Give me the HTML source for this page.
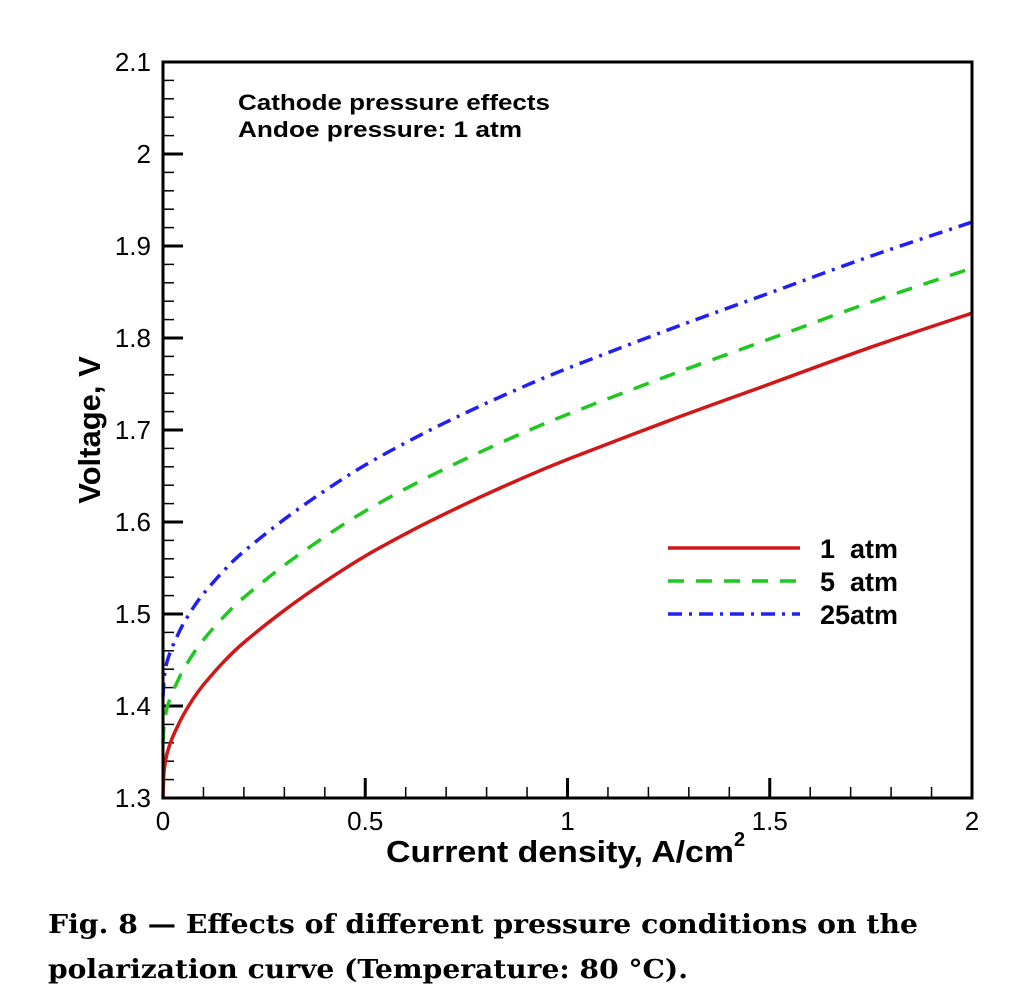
<!DOCTYPE html>
<html><head><meta charset="utf-8"><style>
html,body{margin:0;padding:0;background:#fff;}
svg{display:block;font-family:"Liberation Sans",sans-serif;}
</style></head><body>
<svg id="chart" width="1029" height="1002" viewBox="0 0 1029 1002" xmlns="http://www.w3.org/2000/svg">
<g id="ticks"></g>
<g id="curves"></g>
<rect x="163" y="62" width="809" height="736" fill="none" stroke="#000" stroke-width="3"/>
<text x="238" y="110" font-size="22" font-weight="bold" textLength="312" lengthAdjust="spacingAndGlyphs">Cathode pressure effects</text>
<text x="238" y="137" font-size="22" font-weight="bold" textLength="284" lengthAdjust="spacingAndGlyphs">Andoe pressure: 1 atm</text>
<text transform="translate(100,430) rotate(-90)" text-anchor="middle" font-size="31" font-weight="bold">Voltage, V</text>
<text x="386" y="862" font-size="31" font-weight="bold" textLength="348" lengthAdjust="spacingAndGlyphs">Current density, A/cm</text>
<text x="734" y="846" font-size="20" font-weight="bold">2</text>
<g id="legend"></g>
<text x="48" y="933" font-family="'DejaVu Serif','Liberation Serif',serif" font-size="26" font-weight="bold" textLength="870" lengthAdjust="spacingAndGlyphs">Fig. 8 — Effects of different pressure conditions on the</text>
<text x="48" y="978" font-family="'DejaVu Serif','Liberation Serif',serif" font-size="26" font-weight="bold" textLength="640" lengthAdjust="spacingAndGlyphs">polarization curve (Temperature: 80 °C).</text>
</svg>
<script>
const xData = [0, 0.002, 0.005, 0.01, 0.02, 0.035, 0.05, 0.075, 0.1, 0.15, 0.2, 0.3, 0.4, 0.5, 0.625, 0.75, 0.875, 1, 1.25, 1.5, 1.75, 2];
const v1atm = [1.30, 1.325, 1.337, 1.348, 1.362, 1.377, 1.39, 1.408, 1.423, 1.448, 1.469, 1.504, 1.535, 1.563, 1.593, 1.62, 1.645, 1.668, 1.71, 1.75, 1.79, 1.827];
const v5atm = [1.36, 1.375, 1.387, 1.398, 1.411, 1.426, 1.439, 1.457, 1.472, 1.497, 1.518, 1.553, 1.584, 1.612, 1.642, 1.669, 1.694, 1.717, 1.759, 1.799, 1.839, 1.876];
const v25atm = [1.41, 1.425, 1.437, 1.448, 1.461, 1.476, 1.489, 1.507, 1.522, 1.547, 1.568, 1.603, 1.634, 1.662, 1.692, 1.719, 1.744, 1.767, 1.809, 1.849, 1.889, 1.926];
const xTicks = [0, 0.5, 1, 1.5, 2];
const xTickLabels = ["0", "0.5", "1", "1.5", "2"];
const yTicks = [1.3, 1.4, 1.5, 1.6, 1.7, 1.8, 1.9, 2, 2.1];
const yTickLabels = ["1.3", "1.4", "1.5", "1.6", "1.7", "1.8", "1.9", "2", "2.1"];
const seriesNames = ["1  atm", "5  atm", "25atm"];

const NS = "http://www.w3.org/2000/svg";
const X0 = 163, X1 = 972, Y0 = 798, Y1 = 62;
function sx(v){ return X0 + (v - 0) / 2 * (X1 - X0); }
function sy(v){ return Y0 - (v - 1.3) / 0.8 * (Y0 - Y1); }
function mk(tag, attrs, parent){ const e = document.createElementNS(NS, tag); for (const k in attrs) e.setAttribute(k, attrs[k]); parent.appendChild(e); return e; }

const tg = document.getElementById("ticks");
for (let i = 0; i <= 20; i++) {
  const v = i * 0.1, major = i % 5 === 0;
  const t = mk("line", {x1: sx(v), x2: sx(v), y1: Y0, y2: Y0 - (major ? 20 : 11), stroke: "#000", "stroke-width": major ? 3 : 1.5}, tg);
  
  
}
for (let i = 0; i <= 40; i++) {
  const v = 1.3 + i * 0.02, major = i % 5 === 0;
  const t = mk("line", {x1: X0, x2: X0 + (major ? 20 : 11), y1: sy(v), y2: sy(v), stroke: "#000", "stroke-width": major ? 3 : 1.5}, tg);
  
  
}
xTicks.forEach((v, i) => {
  const t = mk("text", {x: sx(v), y: Y0 + 32, "text-anchor": "middle", "font-size": 26}, tg);
  t.textContent = xTickLabels[i];
  
  
});
yTicks.forEach((v, i) => {
  const t = mk("text", {x: 151, y: sy(v) + 9, "text-anchor": "end", "font-size": 26}, tg);
  t.textContent = yTickLabels[i];
  
  
});

const styles = [
  {color: "#d01818", dash: ""},
  {color: "#1ec81e", dash: "16,12"},
  {color: "#2020f0", dash: "14,7,3,7"}
];
const series = [v1atm, v5atm, v25atm];
const cg = document.getElementById("curves");
const lg = document.getElementById("legend");
function smoothPath(vals){
  const pts = vals.map((v, i) => [sx(xData[i]), sy(v)]);
  let d = "M" + pts[0][0].toFixed(1) + "," + pts[0][1].toFixed(1);
  for (let i = 0; i < pts.length - 1; i++) {
    const p0 = pts[Math.max(0, i - 1)], p1 = pts[i], p2 = pts[i + 1], p3 = pts[Math.min(pts.length - 1, i + 2)];
    const c1 = [p1[0] + (p2[0] - p0[0]) / 6, p1[1] + (p2[1] - p0[1]) / 6];
    const c2 = [p2[0] - (p3[0] - p1[0]) / 6, p2[1] - (p3[1] - p1[1]) / 6];
    d += " C" + c1[0].toFixed(1) + "," + c1[1].toFixed(1) + " " + c2[0].toFixed(1) + "," + c2[1].toFixed(1) + " " + p2[0].toFixed(1) + "," + p2[1].toFixed(1);
  }
  return d;
}
series.forEach((vals, s) => {
  const p = mk("path", {d: smoothPath(vals), fill: "none", stroke: styles[s].color, "stroke-width": 3.5, "stroke-dasharray": styles[s].dash}, cg);
  
  
  const ly = 548 + s * 33;
  const ll = mk("line", {x1: 668, x2: 800, y1: ly, y2: ly, stroke: styles[s].color, "stroke-width": 3.5, "stroke-dasharray": styles[s].dash}, lg);
  
  
  const lt = mk("text", {x: 820, y: ly + 10, "font-size": 27, "font-weight": "bold"}, lg);
  lt.setAttribute("style", "white-space:pre");
  lt.textContent = seriesNames[s];
  
  
});
</script>
</body></html>
